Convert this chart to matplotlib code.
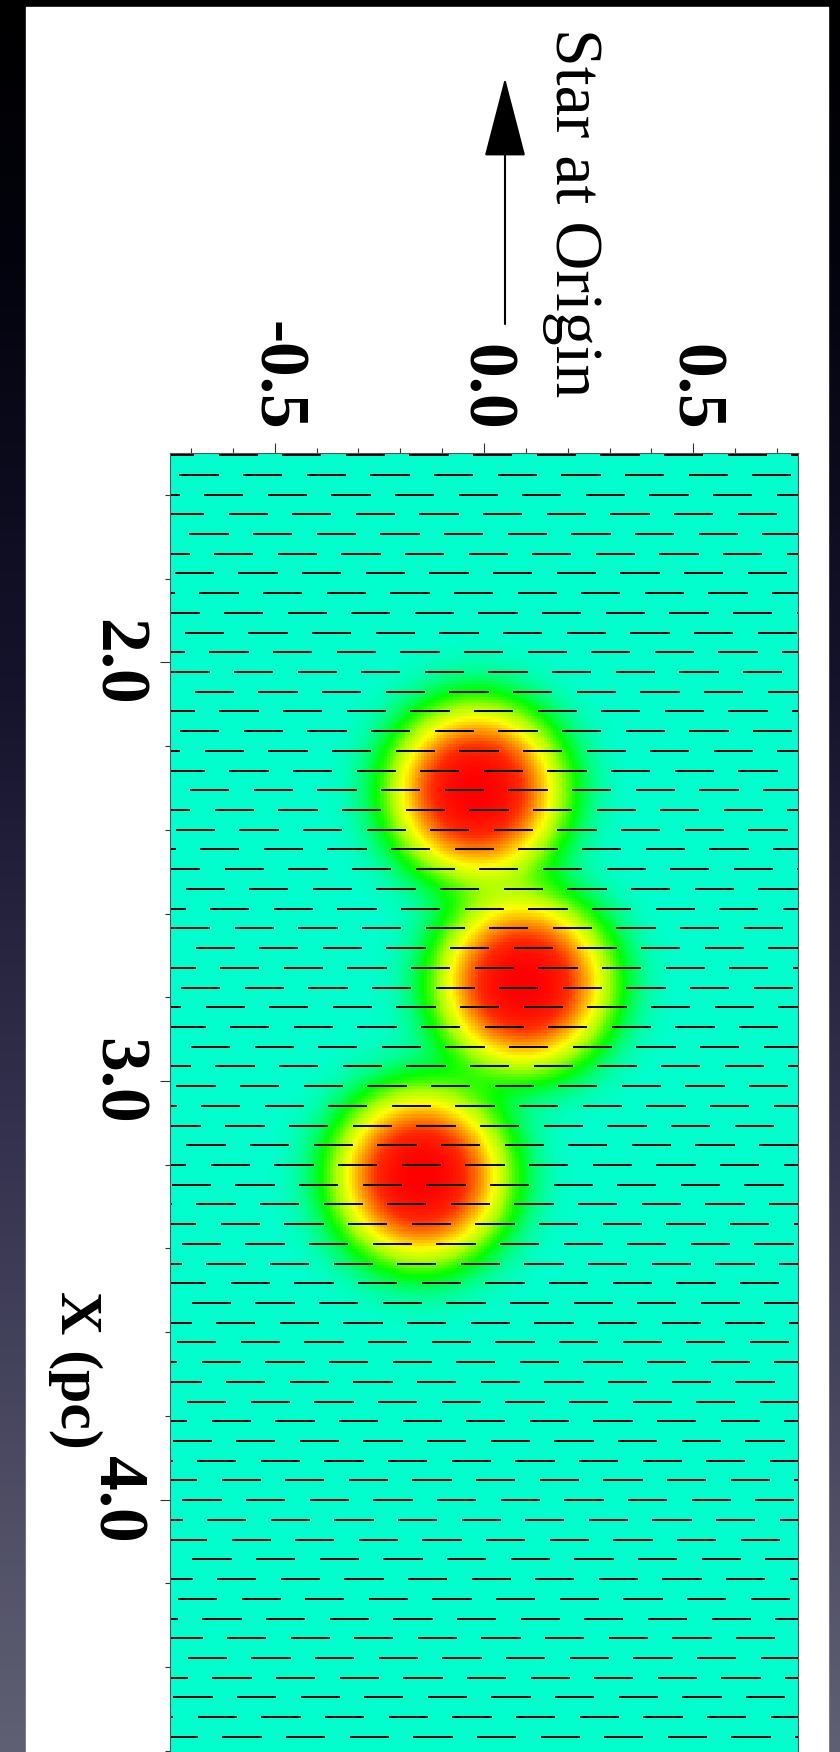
import numpy as np
import matplotlib
matplotlib.use('Agg')
import matplotlib.pyplot as plt
from matplotlib.colors import LinearSegmentedColormap
from matplotlib.collections import LineCollection
from matplotlib.patches import Rectangle, FancyArrowPatch
from matplotlib.ticker import MultipleLocator

plt.rcParams['font.family'] = ['Liberation Serif', 'DejaVu Serif']

# clumps (pc): offset across the star axis, distance X from the star, radius
blob_x = [-0.018, 0.095, -0.150]
blob_z = [2.31, 2.77, 3.23]
blob_radius = [0.19, 0.19, 0.19]
blob_steep = 2.7  # profile exp(-(r/radius)**steep)

# field vectors: staggered rows of short horizontal bars
vec_first_row = 1.505
vec_row_step = 0.0471
vec_first_x = -0.634
vec_period = 0.152
vec_row_shift = 0.0586
vec_length = 0.0938

h_ticks = [-0.5, 0.0, 0.5]
h_labels = ['-0.5', '0.0', '0.5']
v_ticks = [2.0, 3.0, 4.0]
v_labels = ['2.0', '3.0', '4.0']
h_lim = (-0.75, 0.75)
v_lim = (1.5, 5.0)

W, H = 840, 1752
fig = plt.figure(figsize=(W / 100, H / 100), dpi=100)

# slide background: dark gradient + white panel
bg = fig.add_axes([0, 0, 1, 1])
grad_pos = [0.0, 0.15, 0.4, 0.65, 1.0]
grad_col = np.array([(0, 0, 0), (3, 3, 14), (22, 20, 45), (52, 50, 78), (96, 96, 116)]) / 255
t = np.linspace(0, 1, H)
grad = np.stack([np.interp(t, grad_pos, grad_col[:, c]) for c in range(3)], axis=1)
bg.imshow(grad[:, None, :], extent=(0, 1, 0, 1), aspect='auto', origin='upper')
bg.add_patch(Rectangle((26 / W, 0), (828 - 26) / W, 1 - 7 / H, color='white'))
bg.set_xlim(0, 1)
bg.set_ylim(0, 1)
bg.axis('off')

# data axes (runs off the bottom of the slide)
px_per_unit = 628 / (h_lim[1] - h_lim[0])
ax_h = (v_lim[1] - v_lim[0]) * px_per_unit
ax = fig.add_axes([170 / W, 1 - (453 + ax_h) / H, 628 / W, ax_h / H])

cmap = LinearSegmentedColormap.from_list('clump', [
    (0.0, '#00ffcc'), (0.15, '#00ff00'), (0.30, '#aaff00'), (0.45, '#ffff00'),
    (0.62, '#ff9900'), (0.82, '#ff2a00'), (1.0, '#ff0000')])

res = 0.0075
xs = np.arange(h_lim[0], h_lim[1], res) + res / 2
zs = np.arange(v_lim[0], v_lim[1], res) + res / 2
X, Z = np.meshgrid(xs, zs)
field = np.zeros_like(X)
for bx, bz, a in zip(blob_x, blob_z, blob_radius):
    r = np.hypot(X - bx, Z - bz)
    field += np.exp(-(r / a) ** blob_steep)
ax.imshow(field, extent=(h_lim[0], h_lim[1], v_lim[1], v_lim[0]), origin='upper',
          cmap=cmap, vmin=0, vmax=1, interpolation='nearest', aspect='auto')

segs = []
rows = np.arange(vec_first_row, v_lim[1], vec_row_step)
for k, z in enumerate(rows):
    x0 = vec_first_x + vec_row_shift * k
    x0 = (x0 - h_lim[0]) % vec_period + h_lim[0] - vec_period
    for xa in np.arange(x0, h_lim[1], vec_period):
        segs.append([(xa, z), (xa + vec_length, z)])
ax.add_collection(LineCollection(segs, colors='black', linewidths=1.4))

ax.set_xlim(*h_lim)
ax.set_ylim(v_lim[1], v_lim[0])

ax.xaxis.tick_top()
ax.set_xticks(h_ticks)
ax.set_xticklabels(h_labels, rotation=-90, fontsize=50, fontweight='bold')
ax.xaxis.set_minor_locator(MultipleLocator(0.1))
ax.set_yticks(v_ticks)
ax.set_yticklabels(v_labels, rotation=-90, va='center', fontsize=50, fontweight='bold')
ax.yaxis.set_minor_locator(MultipleLocator(0.2))
ax.tick_params(which='both', direction='out', top=True, bottom=False, left=True,
               right=False, color='#333333', width=0.8, pad=9)
ax.tick_params(which='major', length=7.2)
ax.tick_params(which='minor', length=3.6)
for sp in ax.spines.values():
    sp.set_color('#555555')
    sp.set_linewidth(0.8)

# annotation
arrow = FancyArrowPatch((505 / W, 1 - 324 / H), (505 / W, 1 - 78 / H),
                        transform=fig.transFigure,
                        arrowstyle='-|>,head_length=52,head_width=13.5',
                        mutation_scale=1, lw=1.5, color='black',
                        shrinkA=0, shrinkB=0)
fig.add_artist(arrow)
fig.text(572 / W, 1 - 28 / H, 'Star at Origin', rotation=-90, ha='center',
         va='top', fontsize=49)
fig.text(75 / W, 1 - 1370 / H, 'X (pc)', rotation=-90, ha='center', va='center',
         fontsize=43, fontweight='bold')

fig.savefig('out.png', dpi=100)
